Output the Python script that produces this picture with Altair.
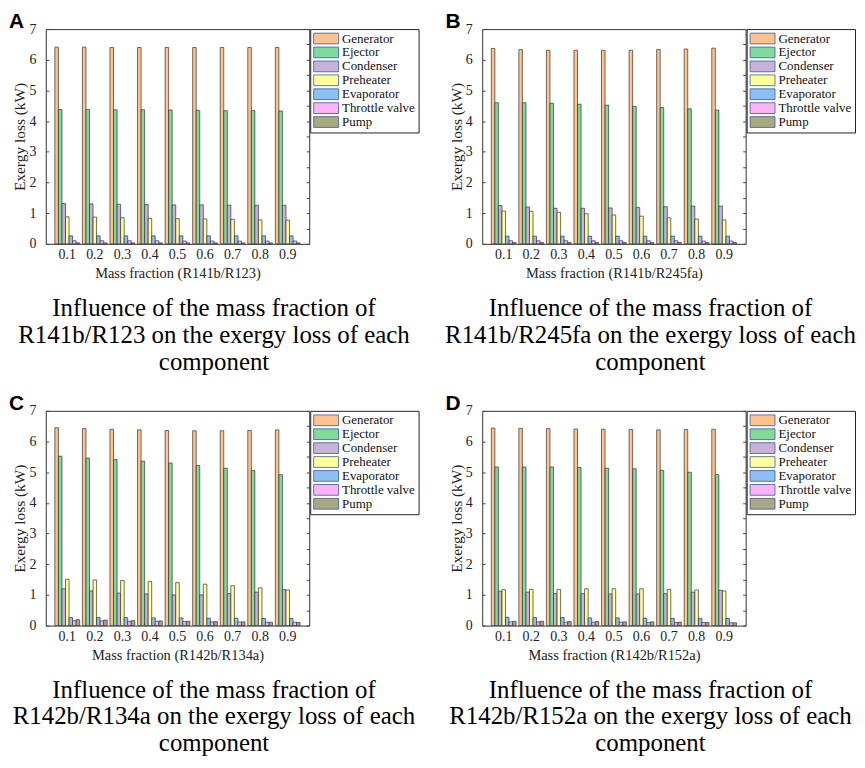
import altair as alt
import pandas as pd

fractions = ["0.1", "0.2", "0.3", "0.4", "0.5", "0.6", "0.7", "0.8", "0.9"]
components = ["Generator", "Ejector", "Condenser", "Preheater", "Evaporator", "Throttle valve", "Pump"]
colors = ["#FFC18E", "#80D99D", "#C8B2DA", "#FFFF9C", "#8DBFF3", "#FFB3F7", "#A9A97F"]
y_ticks = [0, 0.5, 1, 1.5, 2, 2.5, 3, 3.5, 4, 4.5, 5, 5.5, 6, 6.5, 7]

# Panel A: R141b/R123
a_generator = [6.41, 6.41, 6.40, 6.40, 6.40, 6.40, 6.40, 6.40, 6.40]
a_ejector = [4.38, 4.38, 4.37, 4.37, 4.36, 4.35, 4.34, 4.34, 4.33]
a_condenser = [1.31, 1.30, 1.29, 1.28, 1.27, 1.27, 1.26, 1.26, 1.26]
a_preheater = [0.88, 0.87, 0.85, 0.83, 0.82, 0.81, 0.80, 0.78, 0.77]
a_evaporator = [0.26, 0.26, 0.26, 0.26, 0.26, 0.26, 0.26, 0.26, 0.26]
a_throttle = [0.10, 0.10, 0.10, 0.10, 0.09, 0.09, 0.09, 0.09, 0.09]
a_pump = [0.03, 0.03, 0.03, 0.03, 0.03, 0.03, 0.03, 0.03, 0.03]

# Panel B: R141b/R245fa
b_generator = [6.37, 6.33, 6.31, 6.31, 6.31, 6.31, 6.33, 6.35, 6.38]
b_ejector = [4.60, 4.60, 4.58, 4.55, 4.52, 4.48, 4.44, 4.40, 4.36]
b_condenser = [1.25, 1.20, 1.16, 1.16, 1.17, 1.19, 1.21, 1.23, 1.23]
b_preheater = [1.07, 1.06, 1.03, 0.98, 0.94, 0.90, 0.85, 0.81, 0.78]
b_evaporator = [0.25, 0.25, 0.25, 0.25, 0.25, 0.25, 0.25, 0.25, 0.25]
b_throttle = [0.10, 0.10, 0.10, 0.10, 0.10, 0.10, 0.10, 0.09, 0.09]
b_pump = [0.04, 0.04, 0.04, 0.04, 0.04, 0.04, 0.04, 0.04, 0.04]

# Panel C: R142b/R134a
c_generator = [6.45, 6.42, 6.40, 6.38, 6.36, 6.35, 6.35, 6.36, 6.38]
c_ejector = [5.52, 5.46, 5.41, 5.36, 5.30, 5.22, 5.13, 5.05, 4.92]
c_condenser = [1.20, 1.13, 1.06, 1.03, 1.00, 1.00, 1.04, 1.09, 1.17]
c_preheater = [1.51, 1.49, 1.47, 1.44, 1.40, 1.35, 1.30, 1.23, 1.16]
c_evaporator = [0.26, 0.26, 0.26, 0.25, 0.25, 0.24, 0.24, 0.23, 0.23]
c_throttle = [0.16, 0.15, 0.14, 0.14, 0.13, 0.12, 0.12, 0.11, 0.11]
c_pump = [0.19, 0.18, 0.16, 0.15, 0.14, 0.13, 0.12, 0.11, 0.10]

# Panel D: R142b/R152a
d_generator = [6.44, 6.43, 6.42, 6.41, 6.40, 6.39, 6.38, 6.39, 6.40]
d_ejector = [5.17, 5.17, 5.17, 5.15, 5.13, 5.11, 5.06, 5.00, 4.92]
d_condenser = [1.12, 1.09, 1.05, 1.04, 1.03, 1.03, 1.04, 1.09, 1.15]
d_preheater = [1.17, 1.18, 1.18, 1.20, 1.20, 1.20, 1.18, 1.16, 1.13]
d_evaporator = [0.27, 0.26, 0.26, 0.25, 0.25, 0.24, 0.23, 0.23, 0.23]
d_throttle = [0.12, 0.12, 0.11, 0.11, 0.11, 0.10, 0.10, 0.10, 0.09]
d_pump = [0.14, 0.14, 0.13, 0.13, 0.12, 0.12, 0.11, 0.10, 0.09]

panel_letters = ["A", "B", "C", "D"]
x_titles = [
    "Mass fraction (R141b/R123)",
    "Mass fraction (R141b/R245fa)",
    "Mass fraction (R142b/R134a)",
    "Mass fraction (R142b/R152a)",
]
captions = [
    ["Influence of the mass fraction of", "R141b/R123 on the exergy loss of each", "component"],
    ["Influence of the mass fraction of", "R141b/R245fa on the exergy loss of each", "component"],
    ["Influence of the mass fraction of", "R142b/R134a on the exergy loss of each", "component"],
    ["Influence of the mass fraction of", "R142b/R152a on the exergy loss of each", "component"],
]

series = [
    [a_generator, a_ejector, a_condenser, a_preheater, a_evaporator, a_throttle, a_pump],
    [b_generator, b_ejector, b_condenser, b_preheater, b_evaporator, b_throttle, b_pump],
    [c_generator, c_ejector, c_condenser, c_preheater, c_evaporator, c_throttle, c_pump],
    [d_generator, d_ejector, d_condenser, d_preheater, d_evaporator, d_throttle, d_pump],
]

SERIF = "Liberation Serif"
W, H = 265, 216


def make_df(vals):
    rows = []
    for comp, arr in zip(components, vals):
        for f, v in zip(fractions, arr):
            rows.append({"fraction": f, "component": comp, "value": v})
    return pd.DataFrame(rows)


def panel(i):
    df = make_df(series[i])
    x_enc = alt.X(
        "fraction:N",
        sort=fractions,
        scale=alt.Scale(paddingInner=0.1, paddingOuter=0.33),
        axis=alt.Axis(
            title=x_titles[i], labelAngle=0, ticks=False, domain=False, labelPadding=4,
            titlePadding=5, labelFont=SERIF, labelFontSize=14, titleFont=SERIF,
            titleFontSize=14.5, titleFontWeight="normal", labelColor="#222222",
            titleColor="#222222",
        ),
    )
    bars = alt.Chart(df).mark_bar(stroke="#333333", strokeWidth=0.7, opacity=1).encode(
        x=x_enc,
        xOffset=alt.XOffset("component:N", sort=components,
                            scale=alt.Scale(paddingInner=0, paddingOuter=0)),
        y=alt.Y(
            "value:Q",
            scale=alt.Scale(domain=[0, 7], nice=False),
            axis=alt.Axis(
                title="Exergy loss (kW)", values=y_ticks, format="d",
                labelExpr="datum.value % 1 == 0 ? datum.label : ''",
                grid=False, domain=False, offset=-3, tickSize=3, labelPadding=10,
                titlePadding=1, labelFont=SERIF, labelFontSize=14, titleFont=SERIF,
                titleFontSize=15.5, titleFontWeight="normal", labelColor="#222222",
                titleColor="#222222", tickColor="#444444",
            ),
        ),
        color=alt.Color(
            "component:N",
            sort=components,
            scale=alt.Scale(domain=components, range=colors),
            legend=alt.Legend(
                title=None, orient="right", offset=0,
                symbolType="M-1,-0.9L3.17,-0.9L3.17,0.9L-1,0.9Z", symbolSize=144,
                symbolStrokeColor="#3A5A9E", symbolStrokeWidth=0.8, symbolOpacity=1,
                labelFont=SERIF, labelFontSize=13, labelColor="#111111",
                labelOffset=16, rowPadding=-2, padding=3, strokeColor="#222222",
                fillColor="white",
            ),
        ),
    )
    right_ticks = alt.Chart(df).mark_point(opacity=0).encode(
        x=alt.X("fraction:N", sort=fractions,
                scale=alt.Scale(paddingInner=0.1, paddingOuter=0.33)),
        y=alt.Y(
            "value:Q",
            scale=alt.Scale(domain=[0, 7], nice=False),
            axis=alt.Axis(
                orient="right", title=None, values=y_ticks, labels=False, grid=False,
                domain=False, offset=-3, tickSize=3, tickColor="#444444",
            ),
        ),
    )
    letter = alt.Chart(pd.DataFrame({"t": [panel_letters[i]]})).mark_text(
        align="left", baseline="alphabetic", font="Liberation Sans", fontWeight="bold",
        fontSize=21, color="black",
    ).encode(x=alt.value(-37), y=alt.value(-1), text="t:N")

    return alt.layer(bars, right_ticks, letter).resolve_scale(y="independent").properties(
        width=W,
        height=H,
        title=alt.TitleParams(
            text=captions[i], orient="bottom", anchor="middle", frame="bounds",
            font=SERIF, fontSize=25, fontWeight="normal", lineHeight=27, offset=16,
            color="black",
        ),
    )


row1 = alt.hconcat(panel(0), panel(1), spacing=25).resolve_scale(color="independent").resolve_legend(color="independent")
row2 = alt.hconcat(panel(2), panel(3), spacing=25).resolve_scale(color="independent").resolve_legend(color="independent")
chart = (
    alt.vconcat(row1, row2, spacing=17)
    .resolve_scale(color="independent")
    .resolve_legend(color="independent")
    .properties(padding=0)
    .configure_view(stroke="#333333", strokeWidth=1)
)

chart.save("out.html", embed_options={"renderer": "svg", "actions": False})
